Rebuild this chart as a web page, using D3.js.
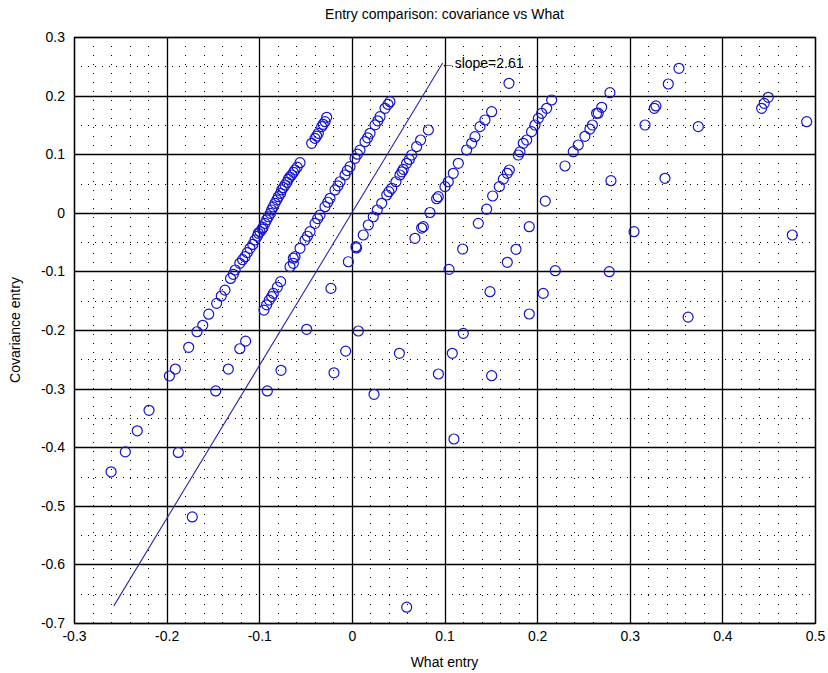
<!DOCTYPE html>
<html>
<head>
<meta charset="utf-8">
<script src="https://cdn.jsdelivr.net/npm/d3@7"></script>
<style>
  html, body { margin: 0; padding: 0; background: #fff; }
  svg { display: block; }
  text { font-family: "Liberation Sans", Arial, sans-serif; fill: #000; }
</style>
</head>
<body>
<svg id="chart" width="828" height="673"></svg>
<script>
// ---- data ----
const whatEntry = [
  -0.260, -0.2446, -0.2317, -0.219, -0.1874, -0.1723, 0.0592,
  -0.197, -0.1906, -0.1762, -0.1672, -0.161, -0.1546, -0.146, -0.141, -0.137, -0.131, -0.128, -0.126, -0.121, -0.118,
  -0.1154, -0.113, -0.11, -0.107, -0.1046, -0.102, -0.101, -0.0992, -0.097, -0.096, -0.0938, -0.092, -0.0902, -0.088,
  -0.0866, -0.085, -0.083, -0.081, -0.0794, -0.077, -0.0758, -0.074, -0.0722, -0.070, -0.0686, -0.067, -0.065, -0.063,
  -0.0614, -0.059, -0.056,
  -0.147, -0.1334, -0.121, -0.1147, -0.0913, -0.0765, -0.0488, -0.0226, -0.0067, -0.0193, 0.007, 0.0239, 0.0513,
  0.0934, 0.1102, 0.1084, 0.1203, 0.1509, 0.1491, 0.1915, 0.2066, 0.2196, 0.1049, 0.1196, 0.1678, 0.1772, 0.1915,
  0.2088, 0.2301, 0.2797, 0.3046, 0.2779, 0.363, 0.338, 0.374, 0.3165, 0.3265, 0.3283, 0.3416, 0.3531, 0.4424,
  0.4452, 0.4495, 0.491, 0.4755, 0.1696,
  -0.0949, -0.092, -0.0892, -0.0866, -0.0848, -0.0805, -0.0769, -0.0668, -0.0632, -0.0632, -0.0614, -0.056, -0.0506,
  -0.048, -0.0452, -0.0398, -0.037, -0.0344, -0.029, -0.026, -0.0236, -0.0182, -0.015, -0.0128, -0.0074, -0.005,
  -0.002, 0.0034, 0.006, 0.0088, 0.0142, 0.017, 0.0196, 0.025, 0.028, 0.0304, 0.0358, 0.039, 0.0411,
  -0.0434, -0.0398, -0.038, -0.0362, -0.0326, -0.031, -0.029, -0.0272,
  -0.0038, 0.0044, 0.005, 0.0123, 0.0177, 0.0231, 0.0274, 0.0322, 0.0376, 0.040, 0.043, 0.0476, 0.0519, 0.054,
  0.0555, 0.0591, 0.062, 0.0645, 0.0699, 0.0742, 0.0826,
  0.0681, 0.0753, 0.0771, 0.0843, 0.0915, 0.0933, 0.1005, 0.1041, 0.1095, 0.1149, 0.1239, 0.1293, 0.1329, 0.1383,
  0.1437, 0.1509,
  0.1365, 0.1455, 0.152, 0.1592, 0.1635, 0.1678, 0.17, 0.1797, 0.1815, 0.185, 0.1887, 0.194, 0.1977, 0.2013,
  0.2049, 0.2103, 0.2157,
  0.239, 0.2444, 0.2516, 0.257, 0.2597, 0.2642, 0.266, 0.2697, 0.2786
];
const covEntry = [
  -0.442, -0.408, -0.372, -0.337, -0.409, -0.519, -0.673,
  -0.2785, -0.2666, -0.2295, -0.203, -0.192, -0.173, -0.1545, -0.142, -0.132, -0.112, -0.105, -0.0976, -0.0862, -0.080,
  -0.0749, -0.068, -0.0606, -0.054, -0.0464, -0.040, -0.035, -0.0322, -0.028, -0.025, -0.018, -0.012, -0.0067, -0.001,
  0.0048, 0.010, 0.0162, 0.022, 0.0275, 0.033, 0.039, 0.043, 0.0474, 0.052, 0.0572, 0.061, 0.0645, 0.069,
  0.073, 0.078, 0.0855,
  -0.304, -0.2666, -0.232, -0.219, -0.304, -0.2688, -0.1988, -0.129, -0.236, -0.273, -0.2017, -0.3097, -0.2398,
  -0.2751, -0.386, -0.2398, -0.2057, -0.278, -0.1346, -0.1727, -0.1375, -0.0988, -0.0965, -0.0618, -0.0845, -0.0623, -0.0237,
  0.0199, 0.0799, 0.0548, -0.0322, -0.1005, -0.178, 0.0589, 0.147, 0.1498, 0.1783, 0.1823, 0.2198, 0.2466, 0.1783,
  0.1868, 0.1971, 0.1555, -0.0379, 0.221,
  -0.166, -0.157, -0.149, -0.143, -0.1375, -0.127, -0.1175, -0.092, -0.0862, -0.0776, -0.0749, -0.0606, -0.0464,
  -0.040, -0.0322, -0.018, -0.010, -0.0038, 0.0104, 0.018, 0.0247, 0.039, 0.046, 0.053, 0.0645, 0.072,
  0.0787, 0.093, 0.100, 0.107, 0.1213, 0.128, 0.1357, 0.150, 0.157, 0.164, 0.1783, 0.185, 0.1896,
  0.1186, 0.127, 0.131, 0.1357, 0.147, 0.151, 0.1555, 0.163,
  -0.0835, -0.0578, -0.060, -0.0379, -0.0208, -0.0067, 0.0048, 0.0162, 0.0304, 0.036, 0.0418, 0.053, 0.0645, 0.070,
  0.0742, 0.0845, 0.091, 0.0986, 0.1128, 0.1242, 0.1413,
  -0.0435, -0.026, -0.0237, 0.0005, 0.024, 0.0275, 0.0446, 0.053, 0.0674, 0.0845, 0.1072, 0.1186, 0.1299, 0.147,
  0.1584, 0.1725,
  -0.018, 0.0062, 0.0287, 0.0446, 0.0574, 0.0674, 0.073, 0.0986, 0.104, 0.1186, 0.1242, 0.1385, 0.1498, 0.1612,
  0.1698, 0.1783, 0.1925,
  0.1043, 0.1157, 0.1305, 0.1428, 0.1498, 0.1698, 0.170, 0.180, 0.205
];
const fitSlope = 2.61;
const fitX = [-0.257, 0.098];
const xTicks = [-0.3, -0.2, -0.1, 0, 0.1, 0.2, 0.3, 0.4, 0.5];
const yTicks = [0.3, 0.2, 0.1, 0, -0.1, -0.2, -0.3, -0.4, -0.5, -0.6, -0.7];
const xMinor = d3.range(-0.28, 0.5, 0.02).map(v => +v.toFixed(2)).filter(v => Math.abs(Math.round(v * 10) - v * 10) > 1e-6);
const yMinor = [0.25, 0.15, 0.05, -0.05, -0.15, -0.25, -0.35, -0.45, -0.55, -0.65];
const titleText = "Entry comparison: covariance vs What";
const xLabel = "What entry";
const yLabel = "Covariance entry";
const noteText = "\u2190slope=2.61";

// ---- layout ----
const svg = d3.select("#chart");
const pL = 74, pR = 815, pT = 37, pB = 623;
const x = d3.scaleLinear().domain([-0.3, 0.5]).range([pL, pR]);
const y = d3.scaleLinear().domain([-0.7, 0.3]).range([pB, pT]);
const fmt = d => d3.format("~g")(d).replace("\u2212", "-");

const g = svg.append("g");

// minor dotted grid
g.append("g").selectAll("line").data(xMinor).join("line")
  .attr("x1", d => Math.round(x(d)) + 0.5).attr("x2", d => Math.round(x(d)) + 0.5)
  .attr("y1", pT).attr("y2", pB)
  .attr("stroke", "#000").attr("stroke-width", 1).attr("stroke-dasharray", "1,8");
g.append("g").selectAll("line").data(yMinor).join("line")
  .attr("y1", d => Math.round(y(d)) + 0.5).attr("y2", d => Math.round(y(d)) + 0.5)
  .attr("x1", pL).attr("x2", pR)
  .attr("stroke", "#000").attr("stroke-width", 1).attr("stroke-dasharray", "1,6");

// major solid grid
g.append("g").selectAll("line").data(xTicks).join("line")
  .attr("x1", d => Math.round(x(d)) + 0.5).attr("x2", d => Math.round(x(d)) + 0.5)
  .attr("y1", pT).attr("y2", pB)
  .attr("stroke", "#000").attr("stroke-width", 1.3);
g.append("g").selectAll("line").data(yTicks).join("line")
  .attr("y1", d => Math.round(y(d)) + 0.5).attr("y2", d => Math.round(y(d)) + 0.5)
  .attr("x1", pL).attr("x2", pR)
  .attr("stroke", "#000").attr("stroke-width", 1.3);

// axes (tick labels)
const xAxis = d3.axisBottom(x).tickValues(xTicks).tickSize(0).tickPadding(8).tickFormat(fmt);
const yAxis = d3.axisLeft(y).tickValues(yTicks).tickSize(0).tickPadding(9).tickFormat(fmt);
const gx = svg.append("g").attr("transform", `translate(0,${pB})`).call(xAxis);
const gy = svg.append("g").attr("transform", `translate(${pL},0)`).call(yAxis);
[gx, gy].forEach(a => {
  a.select(".domain").remove();
  a.selectAll("text").attr("font-size", 14).attr("font-family", "'Liberation Sans', Arial, sans-serif").attr("fill", "#000");
});

// fit line
const lineGen = d3.line().x(d => x(d)).y(d => y(fitSlope * d));
svg.append("path").datum(fitX).attr("d", lineGen)
  .attr("fill", "none").attr("stroke", "#2a2aa8").attr("stroke-width", 1.1);

// points
const pts = whatEntry.map((v, i) => [v, covEntry[i]]);
svg.append("g").selectAll("circle").data(pts).join("circle")
  .attr("cx", d => x(d[0])).attr("cy", d => y(d[1])).attr("r", 5)
  .attr("fill", "none").attr("stroke", "#1515d0").attr("stroke-width", 1.2);

// annotation
svg.append("text").attr("x", x(fitX[1]) - 2).attr("y", y(fitSlope * fitX[1]) + 5)
  .attr("font-size", 14).text(noteText);

// frame
svg.append("rect").attr("x", pL + 0.5).attr("y", pT + 0.5)
  .attr("width", pR - pL).attr("height", pB - pT)
  .attr("fill", "none").attr("stroke", "#000").attr("stroke-width", 1.3);

// titles
svg.append("text").attr("x", (pL + pR) / 2).attr("y", 19).attr("text-anchor", "middle")
  .attr("font-size", 14).text(titleText);
svg.append("text").attr("x", (pL + pR) / 2).attr("y", 667).attr("text-anchor", "middle")
  .attr("font-size", 14).text(xLabel);
svg.append("text").attr("transform", `translate(20,${(pT + pB) / 2}) rotate(-90)`)
  .attr("text-anchor", "middle").attr("font-size", 14).text(yLabel);
</script>
</body>
</html>
